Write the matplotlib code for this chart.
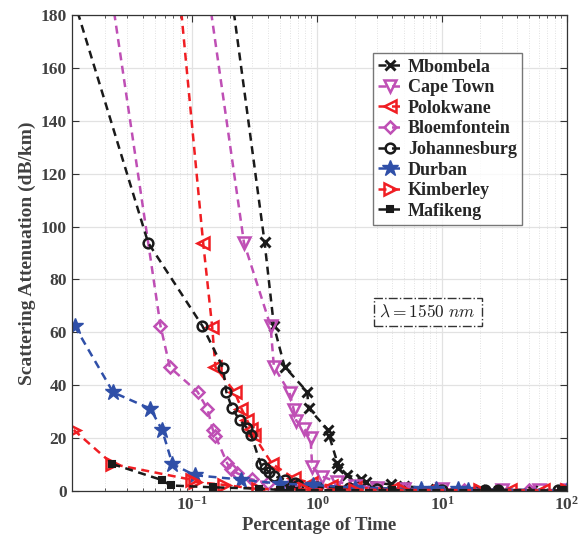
import matplotlib
matplotlib.use("Agg")
import matplotlib.pyplot as plt
from matplotlib.ticker import LogLocator, NullFormatter

plt.rcParams['font.family'] = ['Liberation Serif', 'DejaVu Serif']
plt.rcParams['font.weight'] = 'bold'
plt.rcParams['mathtext.fontset'] = 'custom'
plt.rcParams['mathtext.rm'] = 'Liberation Serif:bold'
plt.rcParams['mathtext.it'] = 'Liberation Serif:italic:bold'
plt.rcParams['mathtext.bf'] = 'Liberation Serif:bold'

# ---------------- data ----------------
mbombela_x = [0.2, 0.379, 0.45, 0.548, 0.832, 0.852, 1.22, 1.25, 1.45, 1.48, 1.73, 2.25, 2.46, 3.9, 5.0, 9.0, 20, 53, 100]
mbombela_y = [192, 94.0, 62.4, 47.0, 37.5, 31.3, 23.1, 20.8, 10.7, 8.6, 6.0, 4.4, 3.5, 2.5, 1.8, 0.8, 0.5, 0.3, 0.2]

capetown_x = [0.13, 0.259, 0.423, 0.45, 0.6, 0.65, 0.68, 0.79, 0.884, 0.912, 1.1, 1.45, 2.0, 3.0, 5.0, 10, 30, 60, 100]
capetown_y = [193, 93.9, 62.4, 47.0, 37.2, 30.6, 26.6, 23.3, 20.2, 9.2, 5.4, 3.5, 2.0, 1.3, 0.9, 0.6, 0.4, 0.3, 0.2]

polokwane_x = [0.07, 0.122, 0.144, 0.153, 0.218, 0.247, 0.275, 0.296, 0.31, 0.433, 0.65, 0.9, 1.3, 2.0, 4.0, 8.0, 35, 65, 100]
polokwane_y = [214, 93.9, 62.2, 46.8, 37.5, 31.2, 26.7, 23.5, 21.0, 10.4, 4.8, 3.0, 2.0, 1.2, 0.8, 0.5, 0.4, 0.3, 0.2]

bloem_x = [0.02, 0.0555, 0.066, 0.11, 0.132, 0.146, 0.153, 0.19, 0.203, 0.229, 0.30, 0.4, 0.6, 1.0, 2.0, 5.0, 15, 50, 100]
bloem_y = [204, 62.5, 46.8, 37.5, 31.0, 23.1, 20.8, 10.5, 8.2, 6.7, 4.4, 3.0, 2.3, 1.5, 1.0, 0.7, 0.5, 0.3, 0.2]

joburg_x = [0.0112, 0.0442, 0.12, 0.176, 0.187, 0.208, 0.239, 0.276, 0.296, 0.352, 0.379, 0.408, 0.45, 0.555, 0.66, 0.7, 1.0, 1.8, 3.0, 10, 22, 28, 85, 100]
joburg_y = [186, 93.9, 62.5, 46.6, 37.5, 31.3, 26.8, 23.7, 21.2, 10.1, 8.6, 7.3, 5.7, 4.2, 2.9, 2.3, 1.6, 1.0, 0.8, 0.5, 0.4, 0.4, 0.3, 0.2]

durban_x = [0.0114, 0.0232, 0.0461, 0.0572, 0.0692, 0.104, 0.247, 0.5, 0.92, 2.0, 6.8, 8.9, 13.4, 16.1, 100]
durban_y = [62.4, 37.3, 31.1, 23.1, 10.2, 6.0, 4.3, 2.8, 2.3, 1.3, 0.7, 0.6, 0.6, 0.5, 0.3]

kimberley_x = [0.0112, 0.0229, 0.1, 0.104, 0.18, 0.335, 0.8, 2.0, 5.0, 20, 100]
kimberley_y = [23.1, 10.2, 4.2, 3.5, 2.3, 0.75, 0.6, 0.5, 0.4, 0.3, 0.2]

mafikeng_x = [0.0229, 0.0566, 0.067, 0.145, 0.344, 0.5, 0.6, 1.5, 4.0, 22, 28, 90, 100]
mafikeng_y = [10.2, 4.2, 2.1, 1.4, 0.9, 0.4, 0.35, 0.3, 0.3, 0.3, 0.3, 0.2, 0.2]

names = ['Mbombela', 'Cape Town', 'Polokwane', 'Bloemfontein',
         'Johannesburg', 'Durban', 'Kimberley', 'Mafikeng']
xs = [mbombela_x, capetown_x, polokwane_x, bloem_x, joburg_x, durban_x, kimberley_x, mafikeng_x]
ys = [mbombela_y, capetown_y, polokwane_y, bloem_y, joburg_y, durban_y, kimberley_y, mafikeng_y]

x_ticks = [0.1, 1, 10, 100]
y_ticks = [0, 20, 40, 60, 80, 100, 120, 140, 160, 180]

# ---------------- styles ----------------
black = '#1a1a1a'
magenta = '#bf4fb5'
red = '#f01e23'
blue = '#2f4fa8'
styles = [
    dict(color=black, marker='x', ms=6.5, mfc=black, mew=2.1),
    dict(color=magenta, marker='v', ms=8, mfc='none', mew=1.8),
    dict(color=red, marker='<', ms=8, mfc='none', mew=1.8),
    dict(color=magenta, marker='D', ms=6, mfc='none', mew=1.8),
    dict(color=black, marker='o', ms=7, mfc='none', mew=1.8),
    dict(color=blue, marker='*', ms=12, mfc=blue, mew=1.0),
    dict(color=red, marker='>', ms=8, mfc='none', mew=1.8),
    dict(color=black, marker='s', ms=5, mfc=black, mew=1.5),
]

fig = plt.figure(figsize=(5.88, 5.46), dpi=100)
ax = fig.add_axes([0.122, 0.1007, 0.842, 0.8718])

for name, x, y, st in zip(names, xs, ys, styles):
    ax.plot(x, y, linestyle=(0, (3.2, 2.2)), linewidth=1.8, label=name, **st)

ax.set_xscale('log')
ax.set_xlim(0.0108, 100)
ax.set_ylim(0, 180)
ax.set_xticks(x_ticks)
ax.set_yticks(y_ticks)
ax.xaxis.set_minor_locator(LogLocator(base=10, subs=range(2, 10), numticks=20))
ax.xaxis.set_minor_formatter(NullFormatter())

txtcol = '#404040'
ax.grid(True, which='major', color='#e2e2e2', linewidth=0.9, linestyle='-')
ax.grid(True, which='minor', axis='x', color='#d8d8d8', linewidth=0.6, linestyle=(0, (1, 2)))
ax.set_axisbelow(True)
ax.tick_params(which='both', direction='in', top=True, right=True, colors='#333333',
               labelcolor=txtcol, labelsize=12.5)
ax.tick_params(which='major', length=5)
ax.tick_params(which='minor', length=2.5)
for s in ax.spines.values():
    s.set_color('#333333')
    s.set_linewidth(0.9)
for lab in ax.get_yticklabels():
    lab.set_fontweight('bold')

ax.set_xlabel('Percentage of Time', fontsize=13.5, fontweight='bold', color=txtcol, labelpad=2)
ax.set_ylabel('Scattering Attenuation (dB/km)', fontsize=14, fontweight='bold', color=txtcol, labelpad=3)

leg = ax.legend(loc='upper left', bbox_to_anchor=(0.608, 0.920), fontsize=13,
                frameon=True, fancybox=False, edgecolor='#555555', handlelength=1.35,
                handletextpad=0.3, borderpad=0.3, labelspacing=0.2, borderaxespad=0)
leg.get_frame().set_linewidth(1.0)
for t in leg.get_texts():
    t.set_fontweight('bold')
    t.set_color('#262626')

ax.text(0.719, 0.376, r'$\lambda = 1550\ nm$', transform=ax.transAxes, fontsize=12.5,
        ha='center', va='center', math_fontfamily='cm', color='#222222',
        bbox=dict(boxstyle='square,pad=0.32', fc='white', ec='#333333', lw=1.0, ls='-.'))

fig.savefig('out.png', dpi=100)
